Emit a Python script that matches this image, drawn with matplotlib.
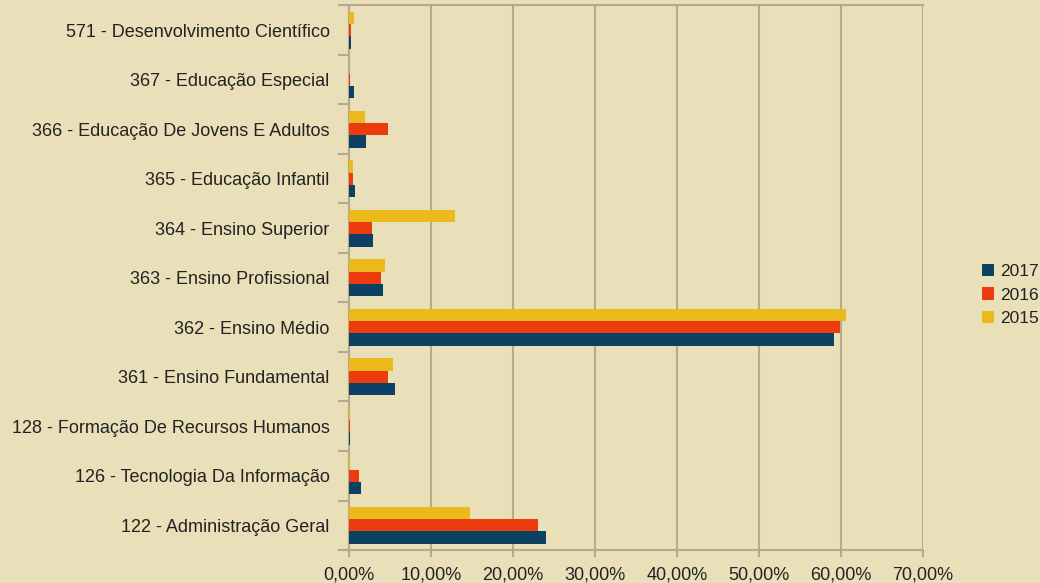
import matplotlib
matplotlib.use("Agg")
import matplotlib.pyplot as plt
import numpy as np
from matplotlib.ticker import FuncFormatter, FixedLocator

plt.rcParams['font.family'] = ['Liberation Sans', 'DejaVu Sans']

categories = [
    "571 - Desenvolvimento Científico",
    "367 - Educação Especial",
    "366 - Educação De Jovens E Adultos",
    "365 - Educação Infantil",
    "364 - Ensino Superior",
    "363 - Ensino Profissional",
    "362 - Ensino Médio",
    "361 - Ensino Fundamental",
    "128 - Formação De Recursos Humanos",
    "126 - Tecnologia Da Informação",
    "122 - Administração Geral",
]
v2017 = [0.3, 0.55, 2.1, 0.77, 2.9, 4.2, 59.1, 5.6, 0.15, 1.5, 24.0]
v2016 = [0.3, 0.1, 4.8, 0.45, 2.75, 3.95, 59.9, 4.7, 0.15, 1.2, 23.1]
v2015 = [0.6, 0.0, 2.0, 0.45, 12.9, 4.35, 60.6, 5.4, 0.1, 0.1, 14.7]
series_labels = ["2017", "2016", "2015"]
xticks = [0, 10, 20, 30, 40, 50, 60, 70]

bg = "#e9e0b9"
gridc = "#b5ab8c"
colors = {"2017": "#0c4163", "2016": "#ec3b0c", "2015": "#ecb91c"}

fig = plt.figure(figsize=(10.4, 5.83), dpi=100, facecolor=bg)
ax = fig.add_axes([0.3356, 0.0566, 0.552, 0.934])
ax.set_facecolor(bg)

n = len(categories)
y = np.arange(n)[::-1].astype(float)  # top category highest
h = 0.25
ax.barh(y - h, v2017, height=h, color=colors["2017"], label="2017", zorder=3)
ax.barh(y, v2016, height=h, color=colors["2016"], label="2016", zorder=3)
ax.barh(y + h, v2015, height=h, color=colors["2015"], label="2015", zorder=3)

ax.set_xlim(0, 70)
ax.set_ylim(-0.5, n - 0.5)
ax.set_xticks(xticks)
ax.xaxis.set_major_formatter(FuncFormatter(lambda v, p: f"{v:.2f}%".replace(".", ",")))
ax.set_yticks(y)
ax.set_yticklabels(categories)
ax.yaxis.set_minor_locator(FixedLocator(np.arange(-0.5, n, 1.0)))
ax.tick_params(axis='y', which='major', length=0, pad=14, labelsize=13, colors="#222222")
ax.tick_params(axis='y', which='minor', length=8, color=gridc, width=1.5)
ax.tick_params(axis='x', which='major', length=5, pad=7, color=gridc, width=1.5,
               labelsize=13, labelcolor="#222222")

ax.grid(axis='x', color=gridc, linewidth=1.5, zorder=0)
ax.spines['right'].set_visible(False)
for s in ['left', 'bottom', 'top']:
    ax.spines[s].set_color(gridc)
    ax.spines[s].set_linewidth(1.5)
    ax.spines[s].set_zorder(2)

handles, labels = ax.get_legend_handles_labels()
leg = fig.legend(handles, labels, loc='center left', bbox_to_anchor=(0.944, 0.494),
                 frameon=False, fontsize=12.5, handlelength=0.7, handleheight=0.7,
                 handletextpad=0.35, labelspacing=0.5, borderaxespad=0, borderpad=0)
for t in leg.get_texts():
    t.set_color("#222222")

fig.savefig("out.png", dpi=100, facecolor=bg)
